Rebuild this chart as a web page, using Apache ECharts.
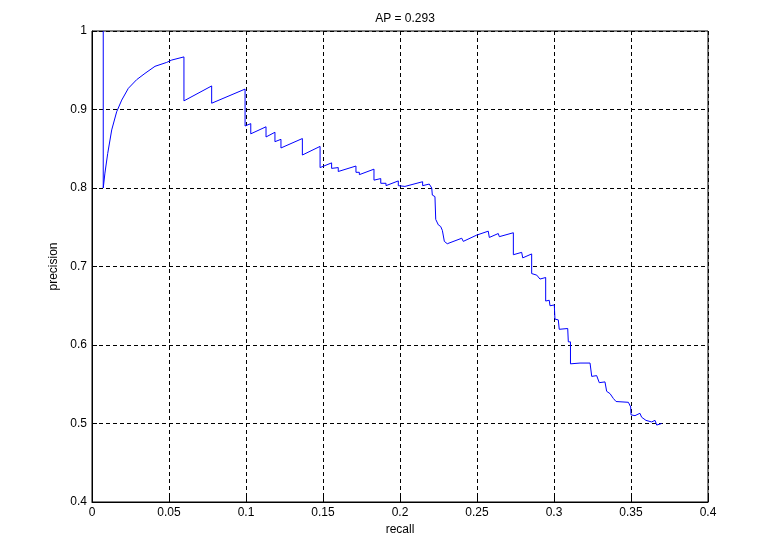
<!DOCTYPE html>
<html>
<head>
<meta charset="utf-8">
<script src="https://cdn.jsdelivr.net/npm/echarts@6/dist/echarts.min.js"></script>
<style>
html,body{margin:0;padding:0;background:#fff;}
#chart{width:773px;height:556px;}
</style>
</head>
<body>
<div id="chart"></div>
<script>
const titleText = "AP = 0.293";
const xTicks = [0, 0.05, 0.1, 0.15, 0.2, 0.25, 0.3, 0.35, 0.4];
const yTicks = [0.4, 0.5, 0.6, 0.7, 0.8, 0.9, 1];
const recall = [
  0.0073, 0.0073, 0.0084, 0.0102, 0.0128, 0.0160, 0.0193, 0.0236, 0.0290, 0.0344,
  0.0409, 0.0485, 0.0518, 0.0597, 0.0597, 0.0777, 0.0777, 0.0994, 0.0994, 0.1031,
  0.1031, 0.1130, 0.1130, 0.1188, 0.1188, 0.1227, 0.1227, 0.1366, 0.1366, 0.1481,
  0.1481, 0.1556, 0.1556, 0.1599, 0.1599, 0.1714, 0.1714, 0.1736, 0.1736, 0.1831,
  0.1831, 0.1875, 0.1875, 0.1909, 0.1909, 0.1989, 0.1989, 0.2032, 0.2032, 0.2147,
  0.2147, 0.2190, 0.2206, 0.2210, 0.2227, 0.2232, 0.2249, 0.2264, 0.2275, 0.2288,
  0.2307, 0.2401, 0.2411, 0.2498, 0.2573, 0.2580, 0.2638, 0.2645, 0.2736, 0.2736,
  0.2790, 0.2797, 0.2855, 0.2855, 0.2888, 0.2909, 0.2946, 0.2946, 0.2969, 0.2974,
  0.3002, 0.3006, 0.3028, 0.3034, 0.3089, 0.3093, 0.3107, 0.3107, 0.3169, 0.3234,
  0.3245, 0.3277, 0.3294, 0.3331, 0.3342, 0.3364, 0.3385, 0.3403, 0.3483, 0.3498,
  0.3500, 0.3526, 0.3558, 0.3569, 0.3597, 0.3634, 0.3656, 0.3667, 0.3699
];
const precision = [
  1.000, 0.800, 0.819, 0.844, 0.874, 0.897, 0.912, 0.927, 0.938, 0.946,
  0.955, 0.960, 0.963, 0.967, 0.911, 0.930, 0.908, 0.926, 0.879, 0.882,
  0.869, 0.878, 0.865, 0.871, 0.859, 0.862, 0.851, 0.863, 0.842, 0.853,
  0.826, 0.832, 0.825, 0.826, 0.821, 0.828, 0.820, 0.820, 0.817, 0.824,
  0.810, 0.812, 0.806, 0.806, 0.803, 0.809, 0.803, 0.802, 0.800, 0.808,
  0.803, 0.805, 0.800, 0.791, 0.789, 0.760, 0.753, 0.751, 0.746, 0.732,
  0.729, 0.736, 0.732, 0.740, 0.745, 0.737, 0.742, 0.738, 0.743, 0.715,
  0.718, 0.711, 0.716, 0.691, 0.689, 0.684, 0.686, 0.656, 0.657, 0.650,
  0.651, 0.633, 0.632, 0.620, 0.621, 0.604, 0.604, 0.576, 0.577, 0.577,
  0.560, 0.561, 0.552, 0.553, 0.541, 0.538, 0.532, 0.528, 0.527, 0.521,
  0.511, 0.510, 0.513, 0.508, 0.504, 0.502, 0.504, 0.498, 0.500
];

const font = "'Liberation Sans', Arial, sans-serif";
const fmt = v => String(+(+v).toFixed(2));
const chart = echarts.init(document.getElementById('chart'), null, {renderer: 'canvas'});
const gridLine = {show: true, lineStyle: {color: '#000', type: [4, 3], width: 1}};
chart.setOption({
  animation: false,
  backgroundColor: '#fff',
  title: {
    text: titleText, left: 400, top: 8, textAlign: 'center',
    textStyle: {fontFamily: font, fontSize: 12, fontWeight: 'normal', color: '#000'}
  },
  grid: {left: 92, right: 65, top: 31, bottom: 54, show: true, borderColor: '#000', borderWidth: 1, backgroundColor: 'transparent'},
  xAxis: {
    type: 'value', min: xTicks[0], max: xTicks[xTicks.length - 1], interval: 0.05,
    name: 'recall', nameLocation: 'middle', nameGap: 22,
    nameTextStyle: {fontFamily: font, fontSize: 12, color: '#000'},
    axisLine: {show: true, onZero: false, lineStyle: {color: '#000'}},
    axisTick: {show: true, inside: true, length: 5, lineStyle: {color: '#000'}},
    axisLabel: {fontFamily: font, fontSize: 12, color: '#000', margin: 5, formatter: fmt},
    splitLine: gridLine
  },
  yAxis: {
    type: 'value', min: yTicks[0], max: yTicks[yTicks.length - 1], interval: 0.1,
    name: 'precision', nameLocation: 'middle', nameGap: 32, nameRotate: 90,
    nameTextStyle: {fontFamily: font, fontSize: 12, color: '#000'},
    axisLine: {show: true, onZero: false, lineStyle: {color: '#000'}},
    axisTick: {show: true, inside: true, length: 5, lineStyle: {color: '#000'}},
    axisLabel: {fontFamily: font, fontSize: 12, color: '#000', margin: 5, formatter: fmt},
    splitLine: gridLine
  },
  series: [{
    type: 'line',
    data: recall.map((r, i) => [r, precision[i]]),
    showSymbol: false,
    lineStyle: {color: '#0000ff', width: 1},
    itemStyle: {color: '#0000ff'}
  }]
});
</script>
</body>
</html>
